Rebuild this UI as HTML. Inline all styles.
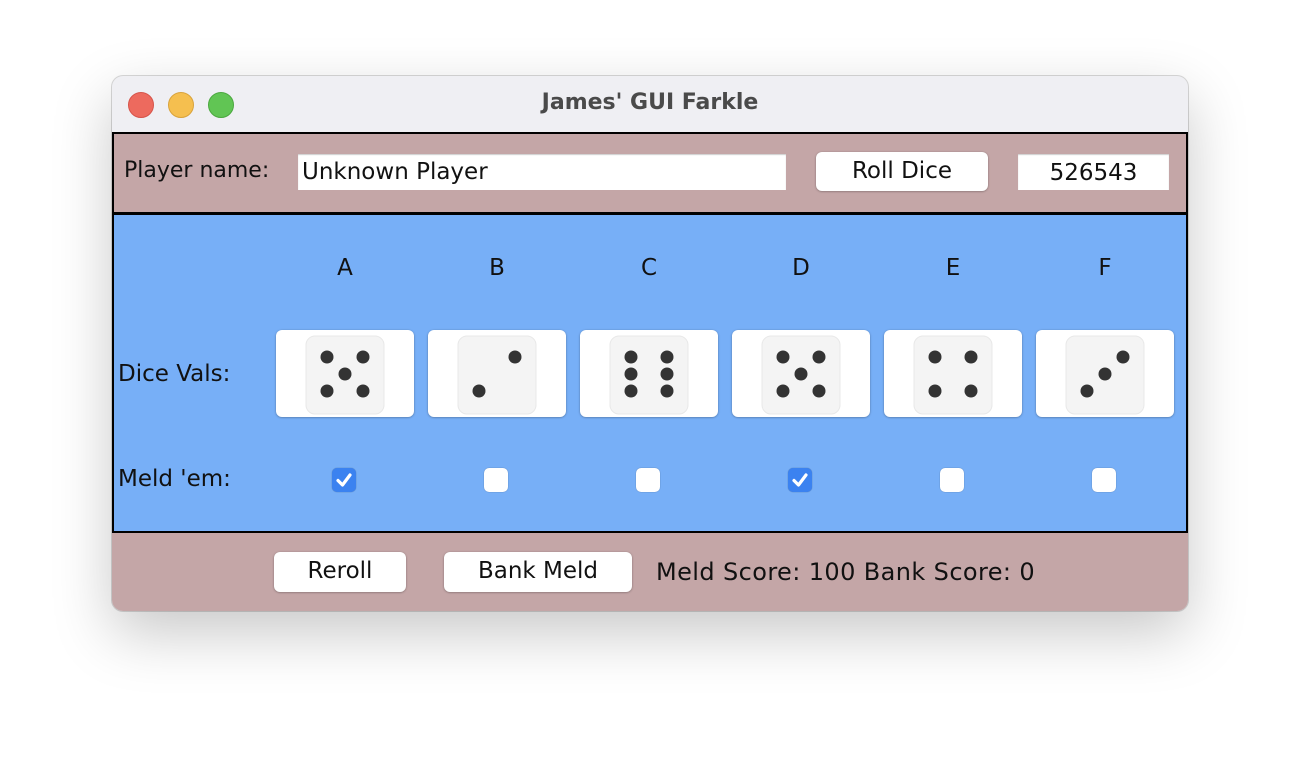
<!DOCTYPE html>
<html><head><meta charset="utf-8"><style>
body{margin:0;width:1300px;height:760px;background:#fff;position:relative;overflow:hidden;font-family:"DejaVu Sans","Liberation Sans",sans-serif;}
.abs{position:absolute;}
#win{left:112px;top:76px;width:1076px;height:535px;border-radius:11px;background:#efeff3;box-shadow:0 22px 60px rgba(0,0,0,0.22),0 0 0 1px rgba(0,0,0,0.15);overflow:hidden;}
.light{width:24px;height:24px;border-radius:50%;top:16px;}
.btn{background:#fff;border-radius:6px;box-shadow:0 0.5px 2px rgba(0,0,0,0.35);text-align:center;font-size:23px;color:#111;}
.fld{background:#fff;font-size:23px;color:#111;box-shadow:inset 0 1px 1px rgba(0,0,0,0.2);}
.lbl{font-size:23px;color:#111;}
.cb{width:24px;height:24px;border-radius:5px;background:#fff;box-shadow:0 0 1px rgba(0,0,0,0.4);}
.cb.on{background:#3b82f0;}
</style></head><body>
<div id="win" class="abs">
  <div class="abs light" style="left:16px;background:#ed6a5e;border:1px solid #d6544a;"></div>
  <div class="abs light" style="left:56px;background:#f5bf4f;border:1px solid #d9a33b;"></div>
  <div class="abs light" style="left:96px;background:#61c554;border:1px solid #4ba83f;"></div>
  <div class="abs" style="left:0;width:1076px;top:14px;text-align:center;font-size:22px;font-weight:bold;color:#4a4a4a;">James' GUI Farkle</div>
  <div class="abs" style="left:0;top:56px;width:1076px;height:2px;background:#000;"></div>
  <div class="abs" style="left:0;top:58px;width:1072px;height:78px;background:#c4a6a7;border-left:2px solid #000;border-right:2px solid #000;"></div>
  <div class="abs" style="left:0;top:136px;width:1076px;height:3px;background:#000;"></div>
  <div class="abs" style="left:0;top:139px;width:1072px;height:316px;background:#77aff7;border-left:2px solid #000;border-right:2px solid #000;"></div>
  <div class="abs" style="left:0;top:455px;width:1076px;height:2px;background:#000;"></div>
  <div class="abs" style="left:0;top:457px;width:1076px;height:78px;background:#c4a6a7;"></div>
</div>
<div class="abs lbl" style="left:124px;top:158px;font-size:22px;">Player name:</div>
<div class="abs fld" style="left:298px;top:154px;width:484px;height:36px;line-height:37px;padding-left:4px;">Unknown Player</div>
<div class="abs btn" style="left:816px;top:152px;width:172px;height:39px;line-height:38px;">Roll Dice</div>
<div class="abs fld" style="left:1018px;top:154px;width:151px;height:36px;line-height:38px;text-align:center;">526543</div>
<div class="abs lbl" style="left:118px;top:361px;">Dice Vals:</div>
<div class="abs lbl" style="left:118px;top:466px;">Meld 'em:</div>
<div class="abs btn" style="left:274px;top:552px;width:132px;height:40px;line-height:39px;">Reroll</div>
<div class="abs btn" style="left:444px;top:552px;width:188px;height:40px;line-height:39px;">Bank Meld</div>
<div class="abs lbl" style="left:656px;top:558px;font-size:24px;letter-spacing:0.4px;">Meld Score: 100 Bank Score: 0</div>
<div id="dice"></div>
<script>
const letters=["A","B","C","D","E","F"];
const values=[5,2,6,5,4,3];
const checked=[true,false,false,true,false,false];
const pipMap={1:[[1,1]],2:[[2,0],[0,2]],3:[[0,2],[1,1],[2,0]],4:[[0,0],[2,0],[0,2],[2,2]],5:[[0,0],[2,0],[1,1],[0,2],[2,2]],6:[[0,0],[2,0],[0,1],[2,1],[0,2],[2,2]]};
const root=document.getElementById('dice');
function colX(i){return 345+i*152;}
letters.forEach((L,i)=>{
  const cx=colX(i);
  const t=document.createElement('div');
  t.className='abs lbl';t.style.cssText=`left:${cx-20}px;width:40px;text-align:center;top:255px;`;
  t.textContent=L;
  
  
  root.appendChild(t);
  const b=document.createElement('div');
  b.className='abs btn';b.style.cssText=`left:${cx-69}px;top:330px;width:138px;height:87px;`;
  
  
  let svg=`<svg width="80" height="80" style="position:absolute;left:29px;top:5px"><rect x="1" y="1" width="78" height="78" rx="9" fill="#f4f4f4" stroke="#e8e8e8"/>`;
  pipMap[values[i]].forEach(p=>{svg+=`<circle cx="${22+p[0]*18}" cy="${22+p[1]*17}" r="6.5" fill="#333"/>`;});
  b.innerHTML=svg+'</svg>';
  root.appendChild(b);
  const c=document.createElement('div');
  c.className='abs cb'+(checked[i]?' on':'');
  c.style.cssText+=`left:${cx-13}px;top:468px;`;
  if(checked[i]) c.innerHTML='<svg width="24" height="24"><path d="M6 12.5 L10.5 17 L18 7" stroke="#fff" stroke-width="3.2" fill="none" stroke-linecap="round" stroke-linejoin="round"/></svg>';
  
  
  root.appendChild(c);
});
</script>
</body></html>
